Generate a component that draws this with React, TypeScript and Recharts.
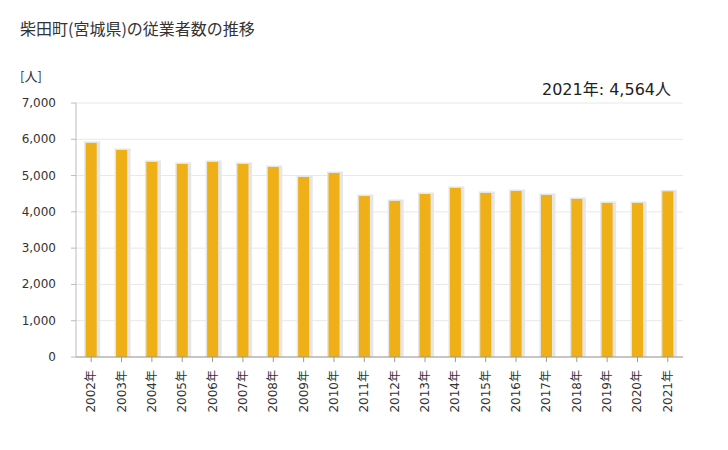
import React from 'react';
import { BarChart, Bar, XAxis, YAxis, CartesianGrid } from 'recharts';

// 柴田町(宮城県) 従業者数
const years = [
    '2002年', '2003年', '2004年', '2005年', '2006年', '2007年', '2008年', '2009年', '2010年', '2011年',
    '2012年', '2013年', '2014年', '2015年', '2016年', '2017年', '2018年', '2019年', '2020年', '2021年',
];
const workers = [
    5900, 5705, 5375, 5320, 5375, 5320, 5235, 4960, 5070, 4435,
    4300, 4490, 4660, 4520, 4575, 4465, 4355, 4245, 4245, 4564,
];
const yTicks = [0, 1000, 2000, 3000, 4000, 5000, 6000, 7000];

const data = years.map((year, i) => ({ year, value: workers[i] }));

const FONT = '"DejaVu Sans", "Noto Sans CJK JP", sans-serif';
const BAR_COLOR = '#EEB016';

const ShadowBar = (props: any) => {
    const { x, y, width, height } = props;
    if (!height || height <= 0) return null;
    return (
        <g>
            <rect x={x - 1.5} y={y - 1.5} width={width + 5} height={height + 1.5} fill="#e6e6e6" />
            <rect x={x} y={y} width={width} height={height} fill={BAR_COLOR} />
        </g>
    );
};

const XTick = (props: any) => {
    const { x, y, payload } = props;
    return (
        <text
            transform={`translate(${x},${y + 6}) rotate(-90)`}
            textAnchor="end"
            dominantBaseline="central"
            fontSize={12}
            fill="#333"
            fontFamily={FONT}
        >
            {payload.value}
        </text>
    );
};

const YTick = (props: any) => {
    const { y, payload } = props;
    return (
        <text x={56} y={y} textAnchor="end" dominantBaseline="central" fontSize={12} fill="#333" fontFamily={FONT}>
            {payload.value.toLocaleString('en-US')}
        </text>
    );
};

export default function App() {
    return (
        <div style={{ position: 'absolute', left: 0, top: 0, width: 728, height: 450, background: '#fff', fontFamily: FONT }}>
            <div style={{ position: 'absolute', left: 20, top: 16, fontSize: 16, color: '#333', fontFamily: '"Noto Sans CJK JP", sans-serif' }}>
                柴田町(宮城県)の従業者数の推移
            </div>
            <div style={{ position: 'absolute', left: 20, top: 66, fontSize: 13, color: '#333', fontFamily: '"Noto Sans CJK JP", sans-serif' }}>[人]</div>
            <div style={{ position: 'absolute', right: 57, top: 76, fontSize: 16, color: '#222' }}>
                2021年: 4,564人
            </div>
            <BarChart
                width={728}
                height={450}
                data={data}
                margin={{ top: 103, right: 45, bottom: 33, left: 0 }}
                barCategoryGap="32%"
            >
                <CartesianGrid vertical={false} stroke="#e8e8e8" />
                <XAxis
                    dataKey="year"
                    interval={0}
                    height={60}
                    tick={<XTick />}
                    tickLine={{ stroke: '#999' }}
                    axisLine={{ stroke: '#999' }}
                    tickSize={5}
                />
                <YAxis
                    width={76}
                    domain={[0, 7000]}
                    ticks={yTicks}
                    tick={<YTick />}
                    tickLine={{ stroke: '#bbb' }}
                    axisLine={{ stroke: '#bbb' }}
                    tickSize={5}
                />
                <Bar dataKey="value" shape={<ShadowBar />} isAnimationActive={false} />
            </BarChart>
        </div>
    );
}
